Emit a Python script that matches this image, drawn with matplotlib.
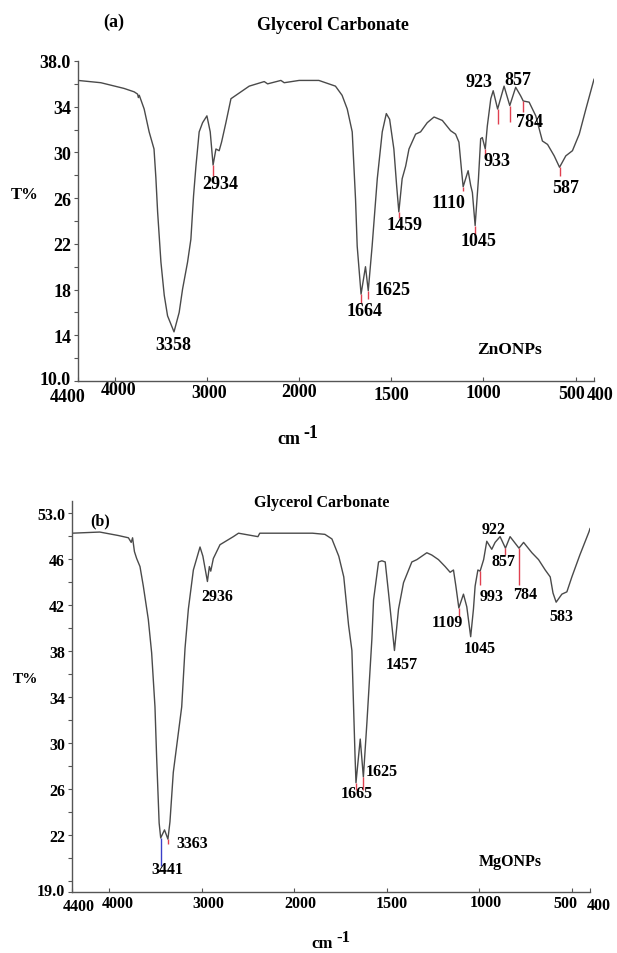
import numpy as np
import matplotlib
matplotlib.use("Agg")
import matplotlib.pyplot as plt
from matplotlib.ticker import FixedLocator, MultipleLocator
from matplotlib.transforms import ScaledTranslation

plt.rcParams['font.family'] = ['Liberation Serif', 'DejaVu Serif']
plt.rcParams['font.weight'] = 'bold'

W, H = 617, 954

# ---------------- Panel (a): ZnONPs ----------------
spec_a = [(4400, 36.3), (4152, 36.1), (3900, 35.6), (3790, 35.3), (3753, 35.1), (3745, 34.8),
          (3735, 35.0), (3682, 33.8), (3628, 31.8), (3575, 30.3), (3555, 27.8), (3536, 24.8),
          (3500, 20.4), (3464, 17.5), (3428, 15.7), (3358, 14.3), (3302, 16.0), (3265, 18.05),
          (3211, 20.4), (3175, 22.4), (3146, 26.2), (3120, 28.8), (3085, 31.8), (3048, 32.6),
          (3001, 33.2), (2965, 31.8), (2934, 28.9), (2903, 30.3), (2868, 30.15), (2842, 30.9),
          (2795, 32.6), (2740, 34.7), (2632, 35.3), (2542, 35.8), (2379, 36.2), (2342, 36.0),
          (2198, 36.3), (2162, 36.1), (2000, 36.3), (1893, 36.3), (1803, 35.8), (1767, 35.0),
          (1739, 33.8), (1712, 31.8), (1694, 25.9), (1685, 21.8), (1664, 17.6), (1640, 20.0),
          (1625, 17.9), (1604, 21.8), (1576, 27.7), (1549, 31.8), (1527, 33.4), (1509, 32.9),
          (1486, 30.3), (1471, 27.1), (1459, 24.8), (1441, 27.7), (1422, 28.8), (1404, 30.3),
          (1368, 31.6), (1341, 31.8), (1305, 32.6), (1268, 33.1), (1223, 32.8), (1178, 31.9),
          (1151, 31.6), (1133, 30.9), (1118, 28.3), (1110, 27.0), (1083, 28.4), (1069, 27.1),
          (1060, 26.5), (1045, 23.6), (1027, 27.7), (1015, 31.2), (1006, 31.3), (990, 30.3),
          (979, 32.3), (960, 34.7), (947, 35.4), (923, 33.8), (888, 35.8), (857, 34.1),
          (825, 35.7), (798, 34.95), (784, 34.5), (752, 34.4), (716, 33.2), (680, 31.0),
          (652, 30.7), (616, 29.7), (587, 28.7), (553, 29.7), (517, 30.15), (480, 31.6),
          (444, 33.8), (400, 36.4)]
wn_a = [p[0] for p in spec_a]
t_a = [p[1] for p in spec_a]

lab_a_text = ['2934', '3358', '1664', '1625', '1459', '1110', '1045', '933', '923', '857', '784', '587']
lab_a_wn = [2858, 3369, 1647, 1495, 1429, 1190, 1027, 929, 1022, 815, 750, 554]
lab_a_t = [27.3, 13.15, 16.2, 18.0, 23.65, 25.6, 22.25, 29.3, 36.2, 36.4, 32.7, 26.9]

mk_a_wn = [2934, 1664, 1625, 1459, 1110, 1045, 990, 923, 857, 784, 587]
mk_a_top = [28.9, 17.6, 17.9, 24.8, 27.0, 23.6, 30.3, 33.8, 34.1, 34.5, 28.7]
mk_a_bot = [27.9, 16.8, 17.2, 24.3, 26.6, 22.9, 29.8, 32.5, 32.7, 33.5, 27.9]

yt_a = [10, 14, 18, 22, 26, 30, 34, 38]
yl_a = ['10.0', '14', '18', '22', '26', '30', '34', '38.0']

# ---------------- Panel (b): MgONPs ----------------
spec_b = [(4400, 48.2), (4100, 48.3), (3900, 48.0), (3790, 47.8), (3760, 47.4), (3745, 47.8),
          (3725, 46.6), (3701, 46.0), (3665, 45.3), (3629, 43.6), (3575, 40.7), (3539, 37.8),
          (3503, 33.1), (3485, 28.7), (3458, 23.0), (3441, 21.7), (3400, 22.4), (3363, 21.6),
          (3341, 23.1), (3305, 27.4), (3214, 33.1), (3178, 38.2), (3142, 41.6), (3088, 45.0),
          (3016, 47.0), (2985, 46.2), (2936, 44.0), (2915, 45.3), (2900, 44.9), (2872, 46.0),
          (2800, 47.2), (2656, 47.9), (2600, 48.2), (2390, 47.9), (2370, 48.2), (2200, 48.2),
          (2000, 48.2), (1900, 48.2), (1833, 48.1), (1795, 47.7), (1758, 46.2), (1731, 44.4),
          (1705, 40.2), (1687, 38.0), (1678, 33.1), (1670, 28.8), (1665, 26.5), (1642, 30.3),
          (1625, 27.0), (1606, 31.7), (1579, 39.0), (1570, 42.4), (1543, 45.7), (1525, 45.8),
          (1507, 45.7), (1489, 43.0), (1457, 38.0), (1435, 41.6), (1408, 43.9), (1363, 45.7),
          (1336, 45.9), (1309, 46.2), (1282, 46.5), (1255, 46.3), (1219, 45.9), (1183, 45.3),
          (1156, 44.8), (1138, 45.0), (1125, 43.6), (1109, 41.7), (1084, 42.9), (1066, 41.8),
          (1045, 39.2), (1030, 41.6), (1021, 43.6), (1006, 45.0), (994, 44.9), (975, 45.9),
          (958, 47.5), (931, 46.8), (913, 47.4), (886, 47.9), (857, 46.9), (832, 47.9),
          (784, 46.9), (759, 47.4), (714, 46.5), (678, 45.9), (642, 45.0), (615, 44.4),
          (600, 43.0), (583, 42.2), (552, 42.9), (525, 43.1), (498, 44.4), (455, 46.3),
          (406, 48.3), (400, 48.6)]
wn_b = [p[0] for p in spec_b]
t_b = [p[1] for p in spec_b]

lab_b_text = ['2936', '3441', '3363', '1665', '1625', '1457', '1109', '1045', '993', '784', '857', '922', '583']
lab_b_wn = [2832, 3373, 3103, 1659, 1524, 1416, 1173, 995, 930, 751, 870, 919, 557]
lab_b_t = [42.7, 19.0, 21.3, 25.6, 27.5, 36.8, 40.5, 38.2, 42.7, 42.9, 45.8, 48.6, 41.0]

mk_b_wn = [3441, 3363, 1665, 1625, 1109, 994, 857, 784]
mk_b_top = [21.7, 21.6, 26.5, 27.0, 41.7, 44.9, 46.9, 46.9]
mk_b_bot = [19.3, 21.2, 25.9, 25.9, 40.9, 43.7, 46.3, 43.7]
mk_b_col = ['#3b3fc8', '#e04050', '#e04050', '#e04050', '#e04050', '#e04050', '#e04050', '#e04050']

yt_b = [17, 22, 26, 30, 34, 38, 42, 46, 50]
yl_b = ['19.0', '22', '26', '30', '34', '38', '42', '46', '53.0']

xt = [4400, 4000, 3000, 2000, 1500, 1000, 500, 400]
xl = ['4400', '4000', '3000', '2000', '1500', '1000', '500', '400']
# horizontal/vertical nudges (pixels) of the x tick labels, as in the reference
xoff_a = [(-10, 4), (4, -3), (2, 0), (0, -1), (0, 2), (0, 0), (-4, 1), (6, 2)]
xoff_b = [(7, 3), (9, 0), (7, 0), (6, 0), (5, 0), (7, -1), (-6, 0), (9, 2)]


def fwd(x):
    x = np.asarray(x, dtype=float)
    return np.where(x < 2000, 2 * x, x + 2000)


def inv(y):
    y = np.asarray(y, dtype=float)
    return np.where(y < 4000, y / 2, y - 2000)


fig = plt.figure(figsize=(W / 100, H / 100), dpi=100)

GREY = '#555555'
LINE = '#4a4a4a'
RED = '#e04050'


def px(x, y):
    return x / W, 1 - y / H


def style(ax, ylo, yhi, yt, yl, fs, xoff):
    ax.set_xscale('function', functions=(fwd, inv))
    ax.set_xlim(4400, 400)
    ax.set_ylim(ylo, yhi)
    for s in ['top', 'right']:
        ax.spines[s].set_visible(False)
    for s in ['left', 'bottom']:
        ax.spines[s].set_color(GREY)
        ax.spines[s].set_linewidth(1.0)
    ax.xaxis.set_major_locator(FixedLocator(xt))
    ax.set_xticklabels(xl)
    ax.xaxis.set_minor_locator(FixedLocator([]))
    ax.yaxis.set_major_locator(FixedLocator(yt))
    ax.set_yticklabels(yl)
    ax.yaxis.set_minor_locator(MultipleLocator(2))
    ax.tick_params(axis='x', direction='in', length=3, width=0.8, color=GREY,
                   labelsize=fs, pad=2)
    ax.tick_params(axis='y', which='both', direction='out', length=3, width=0.8,
                   color=GREY, labelsize=fs, pad=2)
    for lab in ax.get_xticklabels() + ax.get_yticklabels():
        lab.set_fontweight('bold')
    for lab, (dx, dy) in zip(ax.get_xticklabels(), xoff):
        lab.set_transform(lab.get_transform() +
                          ScaledTranslation(dx / 100, -dy / 100, fig.dpi_scale_trans))
    # lift the bottom y label slightly, as in the reference
    ylabs = ax.get_yticklabels()
    ylabs[0].set_transform(ylabs[0].get_transform() +
                           ScaledTranslation(0, 3 / 100, fig.dpi_scale_trans))


# ---- panel a ----
axa = fig.add_axes([78 / W, 1 - 382 / H, (594 - 78) / W, 320 / H])
style(axa, 10, 38, yt_a, yl_a, 13, xoff_a)
axa.plot(wn_a, t_a, color=LINE, lw=1.0)
axa.vlines(mk_a_wn, mk_a_bot, mk_a_top, colors=RED, lw=1.0)
for s, w, t in zip(lab_a_text, lab_a_wn, lab_a_t):
    axa.text(w, t, s, ha='center', va='center', fontsize=13, fontweight='bold')

fig.text(*px(114, 22), '(a)', ha='center', va='center', fontsize=13, fontweight='bold')
fig.text(*px(333, 26), 'Glycerol Carbonate', ha='center', va='center', fontsize=13, fontweight='bold')
fig.text(*px(25, 195), 'T%', ha='center', va='center', fontsize=12, fontweight='bold')
fig.text(*px(510, 350), 'ZnONPs', ha='center', va='center', fontsize=12.5, fontweight='bold')
fig.text(*px(300, 440), 'cm', ha='right', va='center', fontsize=13, fontweight='bold')
fig.text(*px(303, 434), '-1', ha='left', va='center', fontsize=13, fontweight='bold')

# ---- panel b ----
axb = fig.add_axes([72 / W, 1 - 893 / H, (590 - 72) / W, 391 / H])
style(axb, 17, 51, yt_b, yl_b, 11.5, xoff_b)
axb.plot(wn_b, t_b, color=LINE, lw=1.0)
axb.vlines(mk_b_wn, mk_b_bot, mk_b_top, colors=mk_b_col, lw=1.0)
for s, w, t in zip(lab_b_text, lab_b_wn, lab_b_t):
    axb.text(w, t, s, ha='center', va='center', fontsize=11.5, fontweight='bold')

fig.text(*px(100, 521), '(b)', ha='center', va='center', fontsize=11.5, fontweight='bold')
fig.text(*px(322, 503), 'Glycerol Carbonate', ha='center', va='center', fontsize=11.5, fontweight='bold')
fig.text(*px(25, 680), 'T%', ha='center', va='center', fontsize=11, fontweight='bold')
fig.text(*px(510, 862), 'MgONPs', ha='center', va='center', fontsize=11.5, fontweight='bold')
fig.text(*px(333, 944), 'cm', ha='right', va='center', fontsize=12, fontweight='bold')
fig.text(*px(336, 938), '-1', ha='left', va='center', fontsize=12, fontweight='bold')

fig.savefig('out.png', dpi=100)
